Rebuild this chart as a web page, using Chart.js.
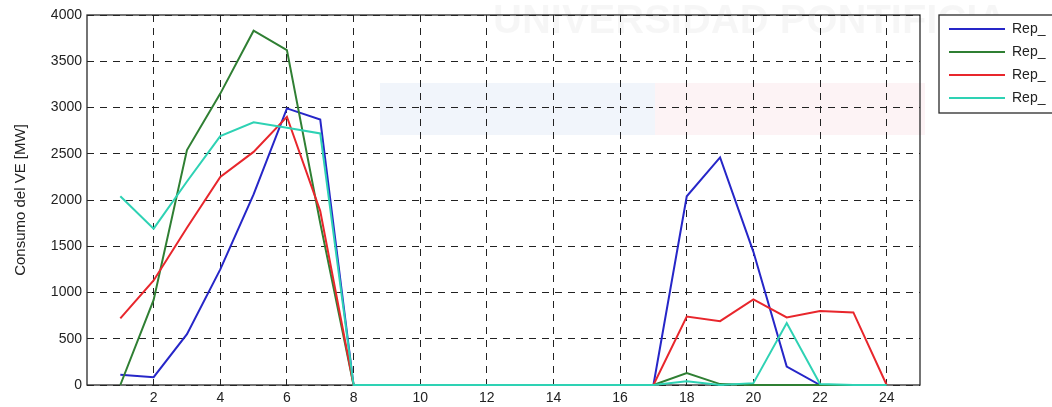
<!DOCTYPE html>
<html>
<head>
<meta charset="utf-8">
<script src="https://cdn.jsdelivr.net/npm/chart.js@4/dist/chart.umd.min.js"></script>
<style>
  html, body { margin: 0; padding: 0; background: #fff; }
  canvas { display: block; }
</style>
</head>
<body>
<canvas id="myChart" width="1052" height="407"></canvas>
<script>
// hours of the day and the four series (MW)
let hours = [1, 2, 3, 4, 5, 6, 7, 8, 9, 10, 11, 12, 13, 14, 15, 16, 17, 18, 19, 20, 21, 22, 23, 24];
let rep1 = [110, 85, 550, 1250, 2060, 2990, 2870, 0, 0, 0, 0, 0, 0, 0, 0, 0, 0, 2040, 2460, 1440, 200, 0, 0, 0];
let rep2 = [0, 920, 2540, 3150, 3830, 3620, 1750, 0, 0, 0, 0, 0, 0, 0, 0, 0, 0, 130, 10, 0, 0, 0, 0, 0];
let rep3 = [720, 1130, 1700, 2250, 2520, 2900, 1880, 0, 0, 0, 0, 0, 0, 0, 0, 0, 0, 740, 690, 925, 730, 800, 785, 0];
let rep4 = [2040, 1690, 2200, 2690, 2840, 2780, 2720, 0, 0, 0, 0, 0, 0, 0, 0, 0, 0, 40, 0, 20, 670, 10, 0, 0];
let seriesNames = ["Rep_", "Rep_", "Rep_", "Rep_"];
let xTicks = [2, 4, 6, 8, 10, 12, 14, 16, 18, 20, 22, 24];
let lineColors = ["#2626c8", "#2f7f33", "#e8262c", "#2ed2b4"];

const FONT = "'Liberation Sans', Arial, sans-serif";

const toPoints = arr => hours.map((h, i) => ({x: h, y: arr[i]}));

// background watermark, plot box and the matlab-like legend
const matlabLook = {
    id: 'matlabLook',
    beforeDraw(chart) {
        let c = chart.ctx;
        c.save();
        c.fillStyle = '#fff';
        c.fillRect(0, 0, chart.width, chart.height);
        c.fillStyle = 'rgba(200,215,240,0.25)';
        c.fillRect(380, 83, 275, 52);
        c.fillStyle = 'rgba(245,200,210,0.22)';
        c.fillRect(655, 83, 270, 52);
        c.fillStyle = 'rgba(0,0,0,0.035)';
        c.font = 'bold 40px ' + FONT;
        c.textBaseline = 'alphabetic';
        c.fillText('UNIVERSIDAD PONTIFICIA', 493, 33);
        c.restore();
    },
    beforeDatasetsDraw(chart) {
        let a = chart.chartArea, c = chart.ctx;
        c.save();
        c.strokeStyle = '#2a2a2a';
        c.lineWidth = 1.3;
        c.strokeRect(a.left, a.top, a.right - a.left, a.bottom - a.top);
        c.restore();
    },
    afterDraw(chart) {
        let c = chart.ctx;
        c.save();
        c.fillStyle = '#fff';
        c.fillRect(939, 15, 120, 98);
        c.strokeStyle = '#2a2a2a';
        c.lineWidth = 1.3;
        c.strokeRect(939, 15, 120, 98);
        c.font = '14px ' + FONT;
        c.textBaseline = 'middle';
        chart.data.datasets.forEach((ds, i) => {
            let y = 29 + i * 23;
            c.strokeStyle = ds.borderColor;
            c.lineWidth = 2.2;
            c.beginPath();
            c.moveTo(949, y);
            c.lineTo(1005, y);
            c.stroke();
            c.fillStyle = '#222';
            c.fillText(ds.label, 1012, y);
        });
        c.restore();
    }
};

const makeSet = (i, arr, order) => ({
    label: seriesNames[i],
    data: toPoints(arr),
    borderColor: lineColors[i],
    backgroundColor: lineColors[i],
    borderWidth: 2,
    pointRadius: 0,
    tension: 0,
    fill: false,
    clip: false,
    order: order
});

new Chart("myChart", {
    type: "line",
    data: {
        datasets: [
            makeSet(0, rep1, 3),
            makeSet(1, rep2, 2),
            makeSet(2, rep3, 1),
            makeSet(3, rep4, 0)
        ]
    },
    options: {
        responsive: false,
        animation: false,
        devicePixelRatio: 1,
        layout: {padding: {top: 15, right: 132, left: 0, bottom: 0}},
        plugins: {
            legend: {display: false},
            tooltip: {enabled: false}
        },
        scales: {
            x: {
                type: 'linear',
                min: 0,
                max: 25,
                afterBuildTicks: axis => { axis.ticks = xTicks.map(v => ({value: v})); },
                afterFit: axis => { axis.height = 22; },
                grid: {color: '#222', lineWidth: 1, drawTicks: false},
                border: {display: false, dash: [7, 6]},
                ticks: {
                    autoSkip: false,
                    maxRotation: 0,
                    padding: 5,
                    color: '#222',
                    font: {family: FONT, size: 14}
                }
            },
            y: {
                min: 0,
                max: 4000,
                afterFit: axis => { axis.width = 87; },
                grid: {color: '#222', lineWidth: 1, drawTicks: false},
                border: {display: false, dash: [7, 6]},
                ticks: {
                    stepSize: 500,
                    padding: 5,
                    color: '#222',
                    font: {family: FONT, size: 14},
                    callback: v => String(v)
                },
                title: {
                    display: true,
                    text: 'Consumo del VE [MW]',
                    color: '#222',
                    padding: {top: 12, bottom: 0},
                    font: {family: FONT, size: 15}
                }
            }
        }
    },
    plugins: [matlabLook]
});
</script>
</body>
</html>
